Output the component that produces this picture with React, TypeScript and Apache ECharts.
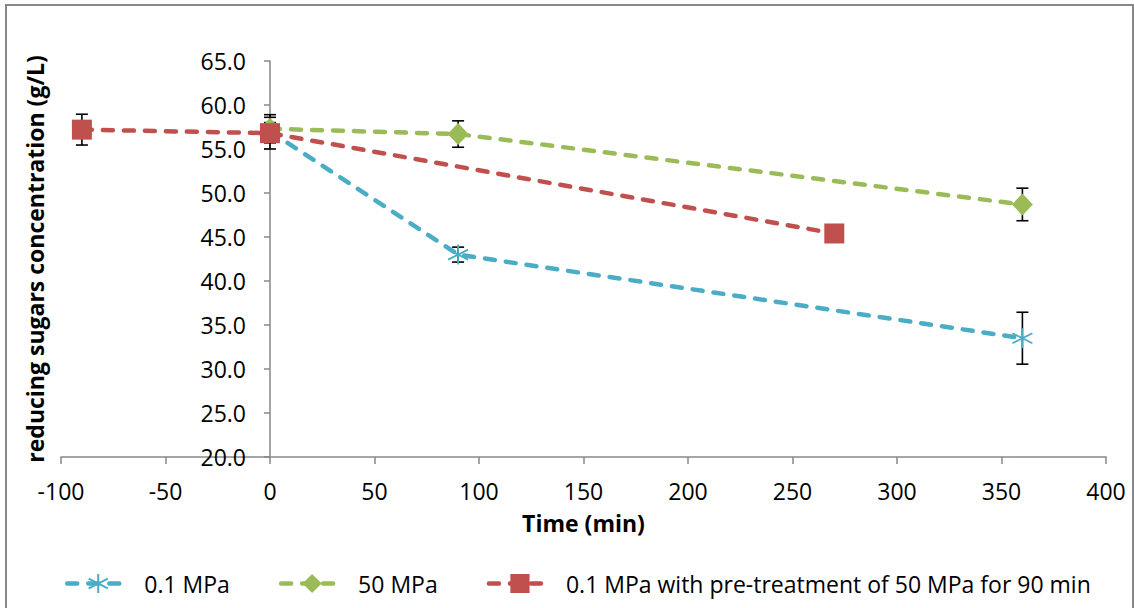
import React, { useEffect, useRef } from "react";
import * as echarts from "echarts";

// ---- data ----
const seriesNames = [
  "0.1 MPa",
  "50 MPa",
  "0.1 MPa with pre-treatment of 50 MPa for 90 min",
];

const timeBlue = [0, 90, 360];
const valuesBlue = [57.0, 43.0, 33.5];
const errBlue = [1.0, 0.85, 2.95];

const timeGreen = [0, 90, 360];
const valuesGreen = [57.3, 56.7, 48.7];
const errGreen = [1.6, 1.5, 1.85];

const timeRed = [-90, 0, 270];
const valuesRed = [57.2, 56.8, 45.4];
const errRed = [1.75, 1.8, 0.5];

const xTicks = { min: -100, max: 400, interval: 50 };
const yTicks = { min: 20, max: 65, interval: 5 };

const colors = ["#4BACC6", "#9BBB59", "#C0504D"];

const FONT = "'Open Sans', 'Noto Sans', sans-serif";
const AXIS_COLOR = "#888888";

const asteriskPath =
  "path://M10,0 L10,20 M1.34,5 L18.66,15 M1.34,15 L18.66,5";

function pairs(xs: number[], ys: number[]) {
  return xs.map((x, i) => [x, ys[i]]);
}
function errData(xs: number[], ys: number[], es: number[]) {
  return xs.map((x, i) => [x, ys[i] - es[i], ys[i] + es[i]]);
}

const errorRender = (params: any, api: any) => {
  const x = api.value(0);
  const lo = api.value(1);
  const hi = api.value(2);
  const pHi = api.coord([x, hi]);
  const pLo = api.coord([x, lo]);
  const hw = 6;
  const style = { stroke: "#000", lineWidth: 1.6 };
  return {
    type: "group",
    children: [
      { type: "line", shape: { x1: pHi[0], y1: pHi[1], x2: pLo[0], y2: pLo[1] }, style },
      { type: "line", shape: { x1: pHi[0] - hw, y1: pHi[1], x2: pHi[0] + hw, y2: pHi[1] }, style },
      { type: "line", shape: { x1: pLo[0] - hw, y1: pLo[1], x2: pLo[0] + hw, y2: pLo[1] }, style },
    ],
  };
};

const GRID_LEFT = 61;
const GRID_RIGHT = 28;
const PLOT_W = 1134 - GRID_LEFT - GRID_RIGHT;
// y axis crosses the x axis at time = 0
const Y_AXIS_OFFSET = -((0 - xTicks.min) / (xTicks.max - xTicks.min)) * PLOT_W;

export default function App() {
  const ref = useRef<HTMLDivElement>(null);

  useEffect(() => {
    if (!ref.current) return;
    const chart = echarts.init(ref.current, null, { renderer: "svg" });

    const lineStyleFor = (c: string) => ({
      color: c,
      width: 4.5,
      type: [10, 11] as any,
      cap: "round" as any,
    });

    const option: any = {
      animation: false,
      backgroundColor: "#ffffff",
      textStyle: { fontFamily: FONT },
      graphic: [
        {
          type: "rect",
          shape: { x: 6, y: 5, width: 1127, height: 700 },
          style: { fill: "none", stroke: AXIS_COLOR, lineWidth: 2 },
          silent: true,
        },
      ],
      grid: {
        left: GRID_LEFT,
        right: GRID_RIGHT,
        top: 61,
        bottom: 151,
        containLabel: false,
        outerBoundsMode: "none",
      },
      legend: {
        data: seriesNames,
        left: 65,
        top: 572,
        padding: 0,
        itemWidth: 62,
        itemHeight: 24,
        itemGap: 49,
        lineStyle: { width: 4.5, cap: "round" },
        textStyle: {
          fontFamily: FONT,
          fontSize: 23,
          color: "#000",
          padding: [0, 0, 0, 10],
        },
      },
      xAxis: {
        type: "value",
        min: xTicks.min,
        max: xTicks.max,
        interval: xTicks.interval,
        name: "Time (min)",
        nameLocation: "middle",
        nameGap: 54,
        nameTextStyle: { fontFamily: FONT, fontSize: 23, fontWeight: "bold", color: "#000" },
        axisLine: { onZero: false, lineStyle: { color: AXIS_COLOR, width: 1.5 } },
        axisTick: { show: true, length: 7, lineStyle: { color: AXIS_COLOR, width: 1.5 } },
        axisLabel: { margin: 22, fontFamily: FONT, fontSize: 23, color: "#000" },
        splitLine: { show: false },
      },
      yAxis: {
        type: "value",
        min: yTicks.min,
        max: yTicks.max,
        interval: yTicks.interval,
        offset: Y_AXIS_OFFSET,
        name: "reducing sugars concentration (g/L)",
        nameLocation: "middle",
        nameGap: 224,
        nameTextStyle: { fontFamily: FONT, fontSize: 23, fontWeight: "bold", color: "#000" },
        axisLine: { show: true, onZero: false, lineStyle: { color: AXIS_COLOR, width: 1.5 } },
        axisTick: { show: true, length: 6, lineStyle: { color: AXIS_COLOR, width: 1.5 } },
        axisLabel: {
          margin: 24,
          fontFamily: FONT,
          fontSize: 23,
          color: "#000",
          formatter: (v: number) => v.toFixed(1),
        },
        splitLine: { show: false },
      },
      series: [
        {
          name: "err-blue",
          type: "custom",
          renderItem: errorRender,
          data: errData(timeBlue, valuesBlue, errBlue),
          encode: { x: 0, y: [1, 2] },
          z: 1,
          silent: true,
        },
        {
          name: "err-green",
          type: "custom",
          renderItem: errorRender,
          data: errData(timeGreen, valuesGreen, errGreen),
          encode: { x: 0, y: [1, 2] },
          z: 1,
          silent: true,
        },
        {
          name: "err-red",
          type: "custom",
          renderItem: errorRender,
          data: errData(timeRed, valuesRed, errRed),
          encode: { x: 0, y: [1, 2] },
          z: 1,
          silent: true,
        },
        {
          name: seriesNames[0],
          type: "line",
          data: pairs(timeBlue, valuesBlue),
          symbol: asteriskPath,
          symbolSize: 20,
          showAllSymbol: true,
          lineStyle: lineStyleFor(colors[0]),
          itemStyle: { color: colors[0], borderColor: colors[0], borderWidth: 1.8 },
          z: 3,
        },
        {
          name: seriesNames[1],
          type: "line",
          data: pairs(timeGreen, valuesGreen),
          symbol: "diamond",
          symbolSize: [21, 22],
          lineStyle: lineStyleFor(colors[1]),
          itemStyle: { color: colors[1], borderWidth: 0 },
          z: 4,
        },
        {
          name: seriesNames[2],
          type: "line",
          data: pairs(timeRed, valuesRed),
          symbol: "rect",
          symbolSize: 20,
          lineStyle: lineStyleFor(colors[2]),
          itemStyle: { color: colors[2], borderWidth: 0 },
          z: 5,
        },
      ],
    };

    chart.setOption(option);
    return () => chart.dispose();
  }, []);

  return (
    <div
      ref={ref}
      style={{ position: "fixed", left: 0, top: 0, width: 1134, height: 608 }}
    />
  );
}
